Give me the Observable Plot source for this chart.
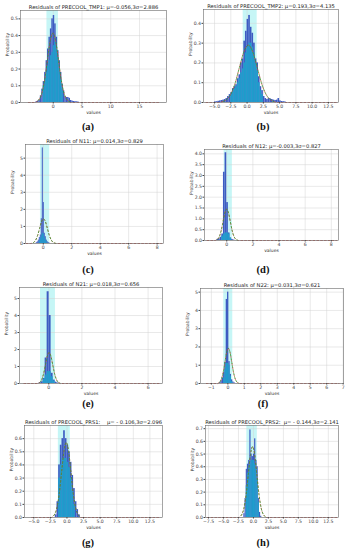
<!DOCTYPE html>
<html><head><meta charset="utf-8">
<script src="https://cdn.jsdelivr.net/npm/d3@7"></script>
<script src="https://cdn.jsdelivr.net/npm/@observablehq/plot@0.6"></script>
<style>
html,body{margin:0;padding:0;background:#fff;}
#root{position:relative;width:350px;height:550px;overflow:hidden;font-family:"DejaVu Sans",sans-serif;}
.panel{position:absolute;}
.letter{position:absolute;font-family:"Liberation Serif","DejaVu Serif",serif;font-weight:bold;font-size:10.5px;transform:translate(-50%,-50%);color:#111;}
</style></head><body><div id="root"></div>
<script>
// ---------- data ----------
const aTitle = "Residuals of PRECOOL_TMP1: μ=-0.056,3σ=2.886";
const aXTicks = [0, 5, 10, 15];
const aYTicks = [0, 0.1, 0.2, 0.3, 0.4, 0.5];
const aXDomain = [-5.7, 19.7];
const aYDomain = [0, 0.55];
const aBinWidth = 0.25;
const aBlueStart = -3.0;
const aBlue = [0.005,0.008,0.015,0.04,0.08,0.125,0.18,0.25,0.32,0.39,0.44,0.5,0.52,0.47,0.39,0.31,0.25,0.18,0.11,0.07,0.035,0.03,0.03,0.025,0.012,0.008,0.006,0.005,0.004,0.003];
const aTealStart = -1.75;
const aTeal = [0.1,0.14,0.18,0.22,0.25,0.28,0.3,0.34,0.36,0.33,0.27,0.2,0.14,0.08];
const aBand = [-1.1, 0.9];
const aRed = [-4.3, 18.6];
const aCurveX = [-2.94,-2.46,-1.98,-1.50,-1.02,-0.54,-0.056,0.43,0.91,1.39,1.87,2.35,2.83];
const aCurveY = [0.005,0.018,0.056,0.135,0.252,0.366,0.415,0.366,0.252,0.135,0.056,0.018,0.005];

const bTitle = "Residuals of PRECOOL_TMP2: μ=0.193,3σ=4.135";
const bXTicks = [-5, -2.5, 0, 2.5, 5, 7.5, 10, 12.5];
const bYTicks = [0, 0.1, 0.2, 0.3, 0.4];
const bXDomain = [-6.7, 14.05];
const bYDomain = [0, 0.47];
const bBinWidth = 0.25;
const bBlueStart = -5.0;
const bBlue = [0.003,0.004,0.006,0.008,0.01,0.012,0.015,0.02,0.03,0.04,0.05,0.07,0.08,0.09,0.12,0.14,0.2,0.22,0.31,0.36,0.42,0.44,0.38,0.35,0.30,0.22,0.2,0.13,0.08,0.06,0.03,0.02,0.015,0.02,0.018,0.015,0.012,0.01,0.012,0.02,0.008,0.005,0.004,0.003];
const bTealStart = -2.5;
const bTeal = [0.04,0.06,0.07,0.08,0.1,0.12,0.15,0.17,0.2,0.25,0.28,0.3,0.3,0.28,0.25,0.2,0.16,0.1,0.06,0.04];
const bBand = [-0.6, 1.55];
const bRed = [-6.3, 13.8];
const bCurveX = [-3.94,-3.25,-2.56,-1.87,-1.19,-0.50,0.19,0.88,1.57,2.26,2.95,3.64,4.33];
const bCurveY = [0.003,0.013,0.039,0.094,0.176,0.255,0.290,0.255,0.176,0.094,0.039,0.013,0.003];

const cTitle = "Residuals of N11: μ=0.014,3σ=0.829";
const cXTicks = [0, 2, 4, 6, 8];
const cYTicks = [0, 1, 2, 3, 4, 5];
const cXDomain = [-1.25, 8.45];
const cYDomain = [0, 5.8];
const cBinWidth = 0.07;
const cBlueStart = -0.49;
const cBlue = [0.05,0.1,0.2,0.35,0.5,1.45,5.6,2.4,0.6,0.4,0.2,0.1,0.05,0.02];
const cTealStart = -0.28;
const cTeal = [0.15,0.3,0.45,0.6,0.55,0.35,0.2,0.1];
const cBand = [-0.2, 0.45];
const cRed = [-1.2, 8.3];
const cCurveX = [-0.815,-0.677,-0.539,-0.400,-0.262,-0.124,0.014,0.152,0.290,0.428,0.567,0.705,0.843];
const cCurveY = [0.016,0.064,0.195,0.469,0.876,1.274,1.444,1.274,0.876,0.469,0.195,0.064,0.016];

const dTitle = "Residuals of N12: μ=-0.003,3σ=0.827";
const dXTicks = [0, 2, 4, 6, 8];
const dYTicks = [0, 0.5, 1, 1.5, 2, 2.5, 3, 3.5, 4];
const dXDomain = [-1.7, 8.55];
const dYDomain = [0, 4.2];
const dBinWidth = 0.125;
const dBlueStart = -0.75;
const dBlue = [0.05,0.08,0.15,0.3,3.15,4.05,1.75,0.35,0.12,0.05,0.02];
const dTealStart = -0.375;
const dTeal = [0.2,0.3,0.35,0.35,0.3,0.1];
const dBand = [-0.2, 0.43];
const dRed = [-1.5, 8.4];
const dCurveX = [-0.830,-0.692,-0.554,-0.417,-0.279,-0.141,-0.003,0.135,0.273,0.411,0.548,0.686,0.824];
const dCurveY = [0.016,0.064,0.196,0.470,0.878,1.277,1.447,1.277,0.878,0.470,0.196,0.064,0.016];

const eTitle = "Residuals of N21: μ=0.018,3σ=0.656";
const eXTicks = [0, 2, 4, 6];
const eYTicks = [0, 1, 2, 3, 4, 5];
const eXDomain = [-1.77, 6.87];
const eYDomain = [0, 5.65];
const eBinWidth = 0.12;
const eBlueStart = -0.58;
const eBlue = [0.05,0.1,0.3,1.5,5.4,4.0,0.6,0.2,0.08,0.03];
const eTealStart = -0.34;
const eTeal = [0.25,0.5,0.7,0.7,0.4,0.15];
const eBand = [-0.5, 0.4];
const eRed = [-1.5, 6.75];
const eCurveX = [-0.638,-0.529,-0.419,-0.310,-0.201,-0.091,0.018,0.127,0.237,0.346,0.455,0.565,0.674];
const eCurveY = [0.020,0.080,0.247,0.592,1.107,1.610,1.824,1.610,1.107,0.592,0.247,0.080,0.020];

const fTitle = "Residuals of N22: μ=0.031,3σ=0.621";
const fXTicks = [-1, 0, 1, 2, 3, 4, 5, 6, 7];
const fYTicks = [0, 1, 2, 3, 4, 5];
const fXDomain = [-1.66, 7.02];
const fYDomain = [0, 5.2];
const fBinWidth = 0.08;
const fBlueStart = -0.5;
const fBlue = [0.05,0.15,0.3,0.6,1.15,4.6,5.0,1.2,0.5,0.2,0.08,0.03];
const fTealStart = -0.26;
const fTeal = [0.3,0.8,1.1,1.1,1.0,0.4,0.1];
const fBand = [-0.25, 0.3];
const fRed = [-1.3, 6.75];
const fCurveX = [-0.590,-0.487,-0.383,-0.280,-0.176,-0.073,0.031,0.135,0.238,0.342,0.445,0.549,0.652];
const fCurveY = [0.021,0.085,0.261,0.626,1.169,1.701,1.927,1.701,1.169,0.626,0.261,0.085,0.021];

const gTitle = "Residuals of PRECOOL_PRS1:    μ= - 0.106,3σ=2.096";
const gXTicks = [-5, -2.5, 0, 2.5, 5, 7.5, 10, 12.5];
const gYTicks = [0, 0.1, 0.2, 0.3, 0.4, 0.5, 0.6];
const gXDomain = [-6.4, 14.4];
const gYDomain = [0, 0.70];
const gBinWidth = 0.25;
const gBlueStart = -1.75;
const gBlue = [0.02,0.12,0.4,0.55,0.6,0.66,0.6,0.55,0.5,0.42,0.32,0.22,0.12,0.06,0.02];
const gTealStart = -1.25;
const gTeal = [0.3,0.4,0.45,0.45,0.45,0.42,0.38,0.3,0.2,0.1];
const gBand = [-1.3, 0.5];
const gRed = [-5.3, 14.0];
const gCurveX = [-2.202,-1.853,-1.503,-1.154,-0.805,-0.455,-0.106,0.243,0.593,0.942,1.291,1.641,1.990];
const gCurveY = [0.006,0.025,0.077,0.185,0.347,0.504,0.571,0.504,0.347,0.185,0.077,0.025,0.006];

const hTitle = "Residuals of PRECOOL_PRS2:  μ= - 0.144,3σ=2.141";
const hXTicks = [-7.5, -5, -2.5, 0, 2.5, 5, 7.5, 10, 12.5];
const hYTicks = [0, 0.1, 0.2, 0.3, 0.4, 0.5, 0.6, 0.7];
const hXDomain = [-8.0, 14.2];
const hYDomain = [0, 0.725];
const hBinWidth = 0.2;
const hBlueStart = -1.6;
const hBlue = [0.03,0.15,0.38,0.42,0.45,0.69,0.5,0.48,0.5,0.62,0.45,0.4,0.15,0.04,0.01];
const hTealStart = -1.2;
const hTeal = [0.25,0.35,0.4,0.42,0.45,0.45,0.45,0.42,0.38,0.3,0.12];
const hBand = [-1.1, 0.65];
const hRed = [-7.7, 14.0];
const hCurveX = [-2.285,-1.928,-1.571,-1.215,-0.858,-0.501,-0.144,0.213,0.570,0.927,1.283,1.640,1.997];
const hCurveY = [0.006,0.025,0.076,0.181,0.339,0.493,0.559,0.493,0.339,0.181,0.076,0.025,0.006];

const panelLetters = ["(a)", "(b)", "(c)", "(d)", "(e)", "(f)", "(g)", "(h)"];

// ---------- layout & style ----------
const BLUE = "#3d5bc2", TEAL = "#1f9dcc", BAND = "#c6f6f6", RED = "#c9473f", GREEN = "#2f9e2f";
const f1 = d3.format(".1f"), f0 = d3.format("d");

const panels = [
  {col:0,   L:20,  R:166, T:10,  B:102, lx:88,  ly:126, title:aTitle, xTicks:aXTicks, yTicks:aYTicks, xDomain:aXDomain, yDomain:aYDomain, w:aBinWidth, blueStart:aBlueStart, blue:aBlue, tealStart:aTealStart, teal:aTeal, band:aBand, red:aRed, cx:aCurveX, cy:aCurveY, xf:f0, yf:f1},
  {col:175, L:203, R:338, T:9,   B:102, lx:263, ly:126, title:bTitle, xTicks:bXTicks, yTicks:bYTicks, xDomain:bXDomain, yDomain:bYDomain, w:bBinWidth, blueStart:bBlueStart, blue:bBlue, tealStart:bTealStart, teal:bTeal, band:bBand, red:bRed, cx:bCurveX, cy:bCurveY, xf:f1, yf:f1},
  {col:0,   L:25,  R:163, T:144, B:243, lx:88,  ly:269, title:cTitle, xTicks:cXTicks, yTicks:cYTicks, xDomain:cXDomain, yDomain:cYDomain, w:cBinWidth, blueStart:cBlueStart, blue:cBlue, tealStart:cTealStart, teal:cTeal, band:cBand, red:cRed, cx:cCurveX, cy:cCurveY, xf:f0, yf:f0},
  {col:175, L:204, R:338, T:149, B:240, lx:263, ly:269, title:dTitle, xTicks:dXTicks, yTicks:dYTicks, xDomain:dXDomain, yDomain:dYDomain, w:dBinWidth, blueStart:dBlueStart, blue:dBlue, tealStart:dTealStart, teal:dTeal, band:dBand, red:dRed, cx:dCurveX, cy:dCurveY, xf:f0, yf:f1},
  {col:0,   L:19,  R:162, T:287, B:383, lx:88,  ly:403, title:eTitle, xTicks:eXTicks, yTicks:eYTicks, xDomain:eXDomain, yDomain:eYDomain, w:eBinWidth, blueStart:eBlueStart, blue:eBlue, tealStart:eTealStart, teal:eTeal, band:eBand, red:eRed, cx:eCurveX, cy:eCurveY, xf:f0, yf:f0},
  {col:175, L:200, R:343, T:288, B:383, lx:263, ly:403, title:fTitle, xTicks:fXTicks, yTicks:fYTicks, xDomain:fXDomain, yDomain:fYDomain, w:fBinWidth, blueStart:fBlueStart, blue:fBlue, tealStart:fTealStart, teal:fTeal, band:fBand, red:fRed, cx:fCurveX, cy:fCurveY, xf:f0, yf:f0},
  {col:0,   L:24,  R:162, T:425, B:517, lx:88,  ly:542, title:gTitle, xTicks:gXTicks, yTicks:gYTicks, xDomain:gXDomain, yDomain:gYDomain, w:gBinWidth, blueStart:gBlueStart, blue:gBlue, tealStart:gTealStart, teal:gTeal, band:gBand, red:gRed, cx:gCurveX, cy:gCurveY, xf:f1, yf:f1},
  {col:175, L:205, R:338, T:425, B:517, lx:263, ly:542, title:hTitle, xTicks:hXTicks, yTicks:hYTicks, xDomain:hXDomain, yDomain:hYDomain, w:hBinWidth, blueStart:hBlueStart, blue:hBlue, tealStart:hTealStart, teal:hTeal, band:hBand, red:hRed, cx:hCurveX, cy:hCurveY, xf:f1, yf:f1}
];

const root = document.getElementById("root");
const bins = (start, width, hs) => hs.map((v, i) => ({x1: start + i * width, x2: start + (i + 1) * width, y: v}));

panels.forEach((p, k) => {
  const W = 175;
  const top = p.T - 12, bottom = p.B + 16;
  const blue = bins(p.blueStart, p.w, p.blue);
  const teal = bins(p.tealStart, p.w, p.teal);
  const bell = p.cx.map((x, i) => ({x, y: p.cy[i]}));
  const step = p.cx[1] - p.cx[0];
  const redLine = [{x: p.red[0], y: 0}, {x: p.cx[0] - 0.3 * step, y: 0}, ...bell, {x: p.cx[p.cx.length - 1] + 0.3 * step, y: 0}, {x: p.red[1], y: 0}];
  const chart = Plot.plot({
    width: W, height: bottom - top,
    marginLeft: p.L - p.col, marginRight: p.col + W - p.R,
    marginTop: p.T - top, marginBottom: bottom - p.B,
    x: {type: "linear", domain: p.xDomain},
    y: {type: "linear", domain: p.yDomain},
    style: {fontFamily: "DejaVu Sans", background: "transparent", overflow: "visible", color: "#333"},
    marks: [
      Plot.rect([p.band], {x1: d => d[0], x2: d => d[1], fill: BAND}),
      Plot.gridX(p.xTicks, {stroke: "#d2d2d2", strokeOpacity: 1, strokeWidth: 0.5}),
      Plot.gridY(p.yTicks, {stroke: "#d2d2d2", strokeOpacity: 1, strokeWidth: 0.5}),
      Plot.rectY(blue, {x1: "x1", x2: "x2", y: "y", fill: BLUE}),
      Plot.rectY(teal, {x1: "x1", x2: "x2", y: "y", fill: TEAL}),
      Plot.line(redLine, {x: "x", y: "y", stroke: RED, strokeWidth: 0.75, strokeDasharray: "1.6,2.2", curve: "monotone-x"}),
      Plot.line(bell, {x: "x", y: "y", stroke: GREEN, strokeWidth: 0.75, strokeDasharray: "1.6,2.2", strokeDashoffset: 1.9, curve: "monotone-x"}),
      Plot.frame({stroke: "#6a6a6a", strokeWidth: 0.6}),
      Plot.axisX(p.xTicks, {tickFormat: p.xf, fontSize: 4.6, tickSize: 1.5, tickPadding: 1, label: null, color: "#444"}),
      Plot.axisY(p.yTicks, {tickFormat: p.yf, fontSize: 4.6, tickSize: 1.5, tickPadding: 1, label: null, color: "#444"}),
      Plot.text([p.title], {text: d => d, frameAnchor: "top", lineAnchor: "bottom", dy: -2, fontSize: 5.2, fill: "#222"}),
      Plot.text(["values"], {text: d => d, frameAnchor: "bottom", lineAnchor: "top", dy: 8.5, fontSize: 4.5, fill: "#333"}),
      Plot.text(["Probability"], {text: d => d, frameAnchor: "left", rotate: -90, dx: -13, fontSize: 4.5, fill: "#333"})
    ]
  });
  chart.classList.add("panel");
  chart.style.left = p.col + "px";
  chart.style.top = top + "px";
  root.appendChild(chart);
  const lab = document.createElement("div");
  lab.className = "letter";
  lab.textContent = panelLetters[k];
  lab.style.left = p.lx + "px";
  lab.style.top = p.ly + "px";
  root.appendChild(lab);
});
</script></body></html>
